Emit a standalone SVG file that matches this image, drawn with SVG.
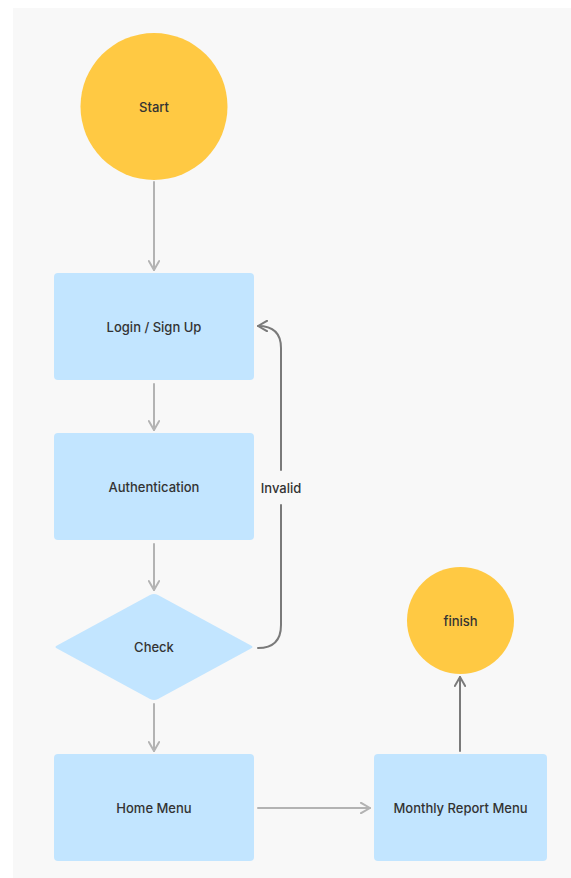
<svg xmlns="http://www.w3.org/2000/svg" width="571" height="878" viewBox="0 0 571 878">
  <defs>
    <style>
      .terminal { fill: #FFC943; }
      .step { fill: #C2E5FF; }
      .label { font-family: Inter, "Noto Sans", "Liberation Sans", sans-serif; font-size: 13px; font-weight: 500; fill: #333333; text-anchor: middle; dominant-baseline: central; }
      .edge { fill: none; stroke-width: 2; stroke-linecap: round; stroke-linejoin: round; }
      .light { stroke: #B3B3B3; }
      .dark { stroke: #7A7A7A; }
    </style>
    <marker id="chev-light" viewBox="0 0 12 12" refX="11" refY="6" markerWidth="12" markerHeight="12" markerUnits="userSpaceOnUse" orient="auto">
      <path d="M2,0.8 L11,6 L2,11.2" fill="none" stroke="#B3B3B3" stroke-width="2" stroke-linecap="round" stroke-linejoin="round"/>
    </marker>
    <marker id="chev-dark" viewBox="0 0 12 12" refX="11" refY="6" markerWidth="12" markerHeight="12" markerUnits="userSpaceOnUse" orient="auto">
      <path d="M2,0.8 L11,6 L2,11.2" fill="none" stroke="#7A7A7A" stroke-width="2" stroke-linecap="round" stroke-linejoin="round"/>
    </marker>
  </defs>

  <!-- page and canvas -->
  <rect x="0" y="0" width="571" height="878" fill="#FFFFFF"/>
  <rect x="13" y="8" width="558" height="870" fill="#F8F8F8"/>

  <!-- connectors -->
  <g id="connectors">
    <path class="edge light" d="M154,182 V270" marker-end="url(#chev-light)"/>
    <path class="edge light" d="M154,384 V430" marker-end="url(#chev-light)"/>
    <path class="edge light" d="M154,544 V590" marker-end="url(#chev-light)"/>
    <path class="edge dark" d="M258,648 Q281,648 281,625 V505"/>
    <path class="edge dark" d="M281,470 V348 Q281,326 258,326" marker-end="url(#chev-dark)"/>
    <text class="label" x="281" y="488" font-weight="400">Invalid</text>
    <path class="edge light" d="M154,704 V751" marker-end="url(#chev-light)"/>
    <path class="edge light" d="M258,808 H370" marker-end="url(#chev-light)"/>
    <path class="edge dark" d="M460,751 V677" marker-end="url(#chev-dark)"/>
  </g>

  <g id="start">
    <circle class="terminal" cx="154" cy="106.5" r="73.5"/>
    <text class="label" x="154" y="107">Start</text>
  </g>

  <g id="login">
    <rect class="step" x="54" y="273" width="200" height="107" rx="4"/>
    <text class="label" x="154" y="327">Login / Sign Up</text>
  </g>

  <g id="authentication">
    <rect class="step" x="54" y="433" width="200" height="107" rx="4"/>
    <text class="label" x="154" y="487">Authentication</text>
  </g>

  <g id="check">
    <path class="step" d="M150,595 Q154,593 158,595 L251,645.5 Q254,647 251,648.5 L158,699 Q154,701 150,699 L57,648.5 Q54,647 57,645.5 Z"/>
    <text class="label" x="154" y="647">Check</text>
  </g>

  <g id="home-menu">
    <rect class="step" x="54" y="754" width="200" height="107" rx="4"/>
    <text class="label" x="154" y="808">Home Menu</text>
  </g>

  <g id="monthly-report-menu">
    <rect class="step" x="374" y="754" width="173" height="107" rx="4"/>
    <text class="label" x="460.5" y="808">Monthly Report Menu</text>
  </g>

  <g id="finish">
    <circle class="terminal" cx="460.5" cy="620.5" r="53.5"/>
    <text class="label" x="460.5" y="621">finish</text>
  </g>
</svg>
